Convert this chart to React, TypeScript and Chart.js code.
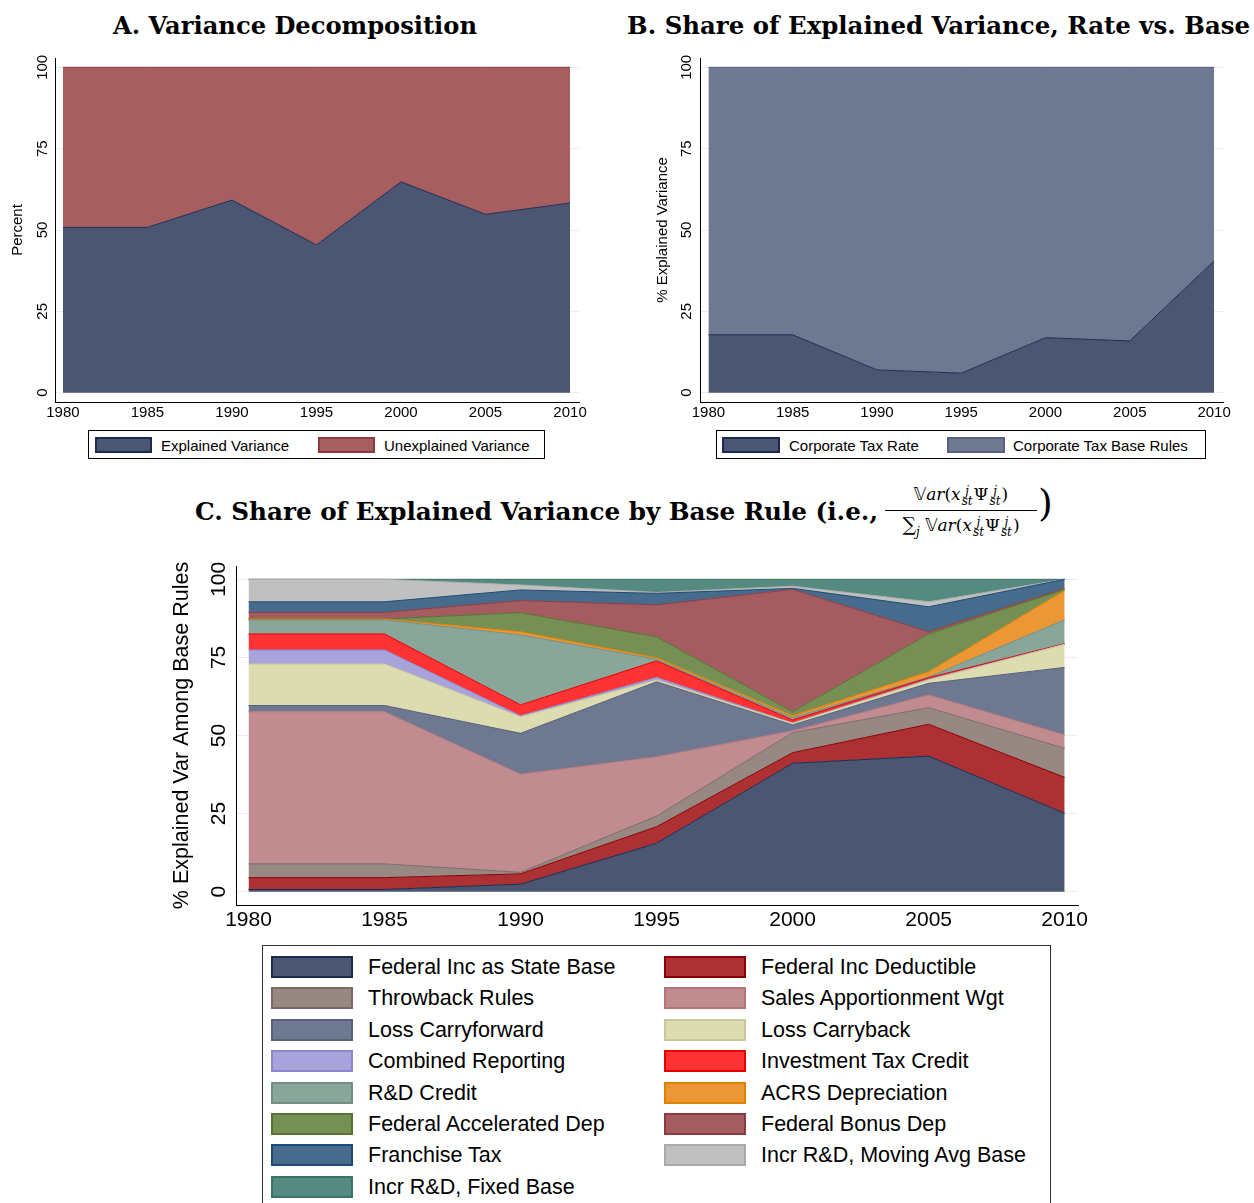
import React, { useEffect, useLayoutEffect, useRef } from "react";
import { Chart, registerables } from "chart.js";

Chart.register(...registerables);

// ---------------- DATA ----------------
const years = [1980, 1985, 1990, 1995, 2000, 2005, 2010];
const xTickValues = [1980, 1985, 1990, 1995, 2000, 2005, 2010];
const yTickValues = [0, 25, 50, 75, 100];

// Panel A
const explainedVariance = [50.8, 50.8, 59.2, 45.4, 64.8, 54.8, 58.3];
const unexplainedVariance = [49.2, 49.2, 40.8, 54.6, 35.2, 45.2, 41.7];

// Panel B
const corporateTaxRate = [17.8, 17.8, 7.0, 6.0, 16.9, 15.9, 40.5];
const corporateTaxBaseRules = [82.2, 82.2, 93.0, 94.0, 83.1, 84.1, 59.5];

// Panel C (each layer's share, stacked bottom to top)
const fedIncStateBase = [0.7, 0.7, 2.4, 15.5, 41.1, 43.4, 25.1];
const fedIncDeductible = [3.8, 3.8, 3.3, 5.3, 3.4, 10.2, 11.5];
const throwbackRules = [4.4, 4.4, 0.5, 3.4, 6.4, 5.3, 9.3];
const salesApportionmentWgt = [48.7, 48.7, 31.4, 19.0, 0.6, 4.1, 4.3];
const lossCarryforward = [2.0, 2.0, 13.1, 24.0, 1.9, 3.7, 21.6];
const lossCarryback = [13.3, 13.3, 5.3, 0.6, 0.5, 1.1, 7.4];
const combinedReporting = [4.5, 4.5, 0.3, 0.8, 0.1, 0.2, 0.0];
const investmentTaxCredit = [5.1, 5.1, 3.5, 5.3, 1.0, 0.5, 0.2];
const rdCredit = [4.5, 4.5, 22.4, 0.5, 0.7, 0.2, 7.6];
const acrsDepreciation = [0.3, 0.3, 1.0, 0.5, 0.6, 1.7, 9.4];
const fedAcceleratedDep = [0.0, 0.0, 6.1, 6.7, 1.3, 12.1, 0.4];
const fedBonusDep = [2.1, 2.1, 3.9, 10.2, 39.2, 0.7, 0.3];
const franchiseTax = [3.4, 3.4, 3.4, 3.7, 0.3, 8.0, 2.9];
const incrRDMovingAvg = [7.2, 7.2, 1.6, 0.3, 0.7, 1.6, 0.0];
const incrRDFixedBase = [0.0, 0.0, 1.8, 4.2, 2.2, 7.2, 0.0];

const labelsA = ["Explained Variance", "Unexplained Variance"];
const seriesA = [explainedVariance, unexplainedVariance];
const labelsB = ["Corporate Tax Rate", "Corporate Tax Base Rules"];
const seriesB = [corporateTaxRate, corporateTaxBaseRules];

const labelsC = [
  "Federal Inc as State Base",
  "Federal Inc Deductible",
  "Throwback Rules",
  "Sales Apportionment Wgt",
  "Loss Carryforward",
  "Loss Carryback",
  "Combined Reporting",
  "Investment Tax Credit",
  "R&D Credit",
  "ACRS Depreciation",
  "Federal Accelerated Dep",
  "Federal Bonus Dep",
  "Franchise Tax",
  "Incr R&D, Moving Avg Base",
  "Incr R&D, Fixed Base",
];
const seriesC = [
  fedIncStateBase,
  fedIncDeductible,
  throwbackRules,
  salesApportionmentWgt,
  lossCarryforward,
  lossCarryback,
  combinedReporting,
  investmentTaxCredit,
  rdCredit,
  acrsDepreciation,
  fedAcceleratedDep,
  fedBonusDep,
  franchiseTax,
  incrRDMovingAvg,
  incrRDFixedBase,
];

// ---------------- STYLES ----------------
const fillsA = ["#4b5673", "#a65e60"];
const linesA = ["#1c2a52", "#8c3a3f"];
const fillsB = ["#4b5673", "#6e7891"];
const linesB = ["#1c2a52", "#58627e"];
const fillsC = [
  "#4b5673", "#ad3033", "#988884", "#c18c8f", "#6e7891",
  "#dddbb0", "#a9a3dc", "#ff3333", "#8aa69b", "#eb9735",
  "#768f55", "#a45c61", "#466b8c", "#c0c0c0", "#558a80",
];
const linesC = [
  "#1c2a52", "#8b0000", "#7a6a66", "#b5747a", "#56607a",
  "#c9c79a", "#8d86cc", "#e60000", "#6f8f84", "#e08000",
  "#55722e", "#8b3a40", "#1f4a75", "#a9a9a9", "#3d7066",
];

const SANS = '"Liberation Sans", Arial, sans-serif';
const SERIF = '"DejaVu Serif", "Liberation Serif", serif';

type Geom = {
  left: number;
  top: number;
  width: number;
  height: number;
  yWidth: number;
  xHeight: number;
  padTop: number;
  padRight: number;
  xMin: number;
  xMax: number;
  yMin: number;
  yMax: number;
  tickSize: number;
  tickPad: number;
  yTickX: number; // page x
  yTitleX: number; // page x
  yTitle: string;
  yTitleSize: number;
};

const rotatedYAxis = {
  id: "rotatedYAxis",
  afterDraw(chart: any, _args: any, opts: any) {
    const { ctx } = chart;
    const y = chart.scales.y;
    ctx.save();
    ctx.fillStyle = "#000";
    ctx.textAlign = "center";
    ctx.textBaseline = "middle";
    ctx.font = `${opts.tickSize}px ${SANS}`;
    for (const v of opts.ticks) {
      const py = y.getPixelForValue(v);
      ctx.save();
      ctx.translate(opts.tickX, py);
      ctx.rotate(-Math.PI / 2);
      ctx.fillText(String(v), 0, 0);
      ctx.restore();
    }
    ctx.font = `${opts.titleSize}px ${SANS}`;
    const pc = y.getPixelForValue(50);
    ctx.translate(opts.titleX, pc);
    ctx.rotate(-Math.PI / 2);
    ctx.fillText(opts.title, 0, 0);
    ctx.restore();
  },
};

function AreaChart({ geom, labels, series, fills, lines }: { geom: Geom; labels: string[]; series: number[][]; fills: string[]; lines: string[] }) {
  const ref = useRef<HTMLCanvasElement>(null);
  useEffect(() => {
    const g = geom;
    const chart = new Chart(ref.current as HTMLCanvasElement, {
      type: "line",
      data: {
        datasets: series.map((arr, i) => ({
          label: labels[i],
          data: years.map((yr, k) => ({ x: yr, y: arr[k] })),
          backgroundColor: fills[i],
          borderColor: lines[i],
          borderWidth: 1,
          fill: i === 0 ? "origin" : "-1",
          pointRadius: 0,
          pointHoverRadius: 0,
          tension: 0,
        })),
      },
      options: {
        animation: false,
        responsive: false,
        devicePixelRatio: 1,
        events: [],
        layout: { padding: { top: g.padTop, right: g.padRight, left: 0, bottom: 0 } },
        plugins: {
          legend: { display: false },
          tooltip: { enabled: false },
          rotatedYAxis: {
            ticks: yTickValues,
            tickSize: g.tickSize,
            tickX: g.yTickX - g.left,
            titleX: g.yTitleX - g.left,
            title: g.yTitle,
            titleSize: g.yTitleSize,
          },
        } as any,
        scales: {
          x: {
            type: "linear",
            min: g.xMin,
            max: g.xMax,
            afterBuildTicks: (s: any) => {
              s.ticks = xTickValues.map((v) => ({ value: v }));
            },
            afterFit: (s: any) => {
              s.height = g.xHeight;
            },
            ticks: {
              callback: (v: any) => String(v),
              color: "#000",
              font: { family: SANS, size: g.tickSize },
              padding: g.tickPad,
              maxRotation: 0,
              minRotation: 0,
              autoSkip: false,
            },
            grid: { display: false, drawTicks: false },
            border: { display: true, color: "#000", width: 1 },
          },
          y: {
            type: "linear",
            stacked: true,
            min: g.yMin,
            max: g.yMax,
            afterBuildTicks: (s: any) => {
              s.ticks = yTickValues.map((v) => ({ value: v }));
            },
            afterFit: (s: any) => {
              s.width = g.yWidth;
            },
            ticks: { display: false },
            grid: { display: true, color: "#e8eff2", lineWidth: 1, drawTicks: false },
            border: { display: true, color: "#000", width: 1 },
          },
        },
      },
      plugins: [rotatedYAxis as any],
    });
    return () => chart.destroy();
  }, []);
  return (
    <canvas
      ref={ref}
      width={geom.width}
      height={geom.height}
      style={{ position: "absolute", left: geom.left, top: geom.top, width: geom.width, height: geom.height }}
    />
  );
}

function FitText({ left, top, width, size, children, style }: any) {
  const ref = useRef<HTMLDivElement>(null);
  useLayoutEffect(() => {
    const el = ref.current as HTMLDivElement;
    el.style.transform = "none";
    const w = el.getBoundingClientRect().width;
    if (w > 0) el.style.transform = `scaleX(${width / w})`;
  });
  return (
    <div
      ref={ref}
      style={{
        position: "absolute",
        left,
        top,
        whiteSpace: "nowrap",
        transformOrigin: "0 0",
        fontFamily: SERIF,
        fontWeight: "bold",
        fontSize: size,
        lineHeight: `${Math.round(size * 1.2)}px`,
        color: "#000",
        ...style,
      }}
    >
      {children}
    </div>
  );
}

function Swatch({ left, top, w, h, fill, line }: any) {
  return (
    <div
      style={{
        position: "absolute",
        left,
        top,
        width: w,
        height: h,
        boxSizing: "border-box",
        background: fill,
        border: `2px solid ${line}`,
      }}
    />
  );
}

function LegendText({ left, top, size, children }: any) {
  return (
    <div
      style={{
        position: "absolute",
        left,
        top,
        fontFamily: SANS,
        fontSize: size,
        lineHeight: "1",
        whiteSpace: "nowrap",
        color: "#000",
      }}
    >
      {children}
    </div>
  );
}

function SupSub({ sup, sub }: { sup: string; sub: string }) {
  return (
    <span
      style={{
        display: "inline-flex",
        flexDirection: "column",
        verticalAlign: "middle",
        fontSize: 12,
        lineHeight: "10px",
        fontStyle: "italic",
        marginLeft: 1,
        marginRight: 1,
      }}
    >
      <span>{sup}</span>
      <span>{sub}</span>
    </span>
  );
}

function VarTerm() {
  return (
    <span>
      <span style={{ fontFamily: '"DejaVu Sans", "DejaVu Serif", serif', fontStyle: "normal" }}>𝕍</span>
      <i>ar</i>(<i>x</i>
      <SupSub sup="j" sub="st" />
      Ψ
      <SupSub sup="j" sub="st" />)
    </span>
  );
}

const geomA: Geom = {
  left: 0, top: 40, width: 620, height: 390,
  yWidth: 55, xHeight: 28, padTop: 18, padRight: 41,
  xMin: 1979.53, xMax: 2010.53, yMin: -2.86, yMax: 102.86,
  tickSize: 15, tickPad: 2, yTickX: 43, yTitleX: 18, yTitle: "Percent", yTitleSize: 15,
};
const geomB: Geom = {
  left: 640, top: 40, width: 614, height: 390,
  yWidth: 60, xHeight: 28, padTop: 18, padRight: 31,
  xMin: 1979.5, xMax: 2010.53, yMin: -2.86, yMax: 102.86,
  tickSize: 15, tickPad: 2, yTickX: 687, yTitleX: 663, yTitle: "% Explained Variance", yTitleSize: 15,
};
const geomC: Geom = {
  left: 150, top: 550, width: 960, height: 395,
  yWidth: 86, xHeight: 40, padTop: 16, padRight: 32,
  xMin: 1979.54, xMax: 2010.49, yMin: -4.26, yMax: 104.26,
  tickSize: 21, tickPad: 3, yTickX: 219, yTitleX: 182, yTitle: "% Explained Var Among Base Rules", yTitleSize: 21.5,
};

export default function App() {
  const rowH = 31.4;
  return (
    <div style={{ position: "absolute", left: 0, top: 0, width: 1254, height: 1203, background: "#fff", overflow: "hidden" }}>
      {/* Titles */}
      <FitText left={113} top={11} width={364} size={25}>A. Variance Decomposition</FitText>
      <FitText left={627} top={11} width={623} size={25}>B. Share of Explained Variance, Rate vs. Base</FitText>
      <FitText left={195} top={497} width={683} size={24}>C. Share of Explained Variance by Base Rule (i.e.,</FitText>

      {/* Fraction in title C */}
      <div style={{ position: "absolute", left: 885, top: 482, width: 152, textAlign: "center", fontFamily: SERIF, fontSize: 17, lineHeight: "24px", whiteSpace: "nowrap", color: "#000" }}>
        <VarTerm />
      </div>
      <div style={{ position: "absolute", left: 885, top: 510, width: 152, height: 1, background: "#000" }} />
      <div style={{ position: "absolute", left: 885, top: 512, width: 152, textAlign: "center", fontFamily: SERIF, fontSize: 17, lineHeight: "24px", whiteSpace: "nowrap", color: "#000" }}>
        <span style={{ fontSize: 19 }}>∑</span>
        <i style={{ fontSize: 12, verticalAlign: "-5px" }}>j</i> <VarTerm />
      </div>
      <div style={{ position: "absolute", left: 1038, top: 480, fontFamily: SERIF, fontSize: 38, lineHeight: "46px", color: "#000" }}>)</div>

      {/* Charts */}
      <AreaChart geom={geomA} labels={labelsA} series={seriesA} fills={fillsA} lines={linesA} />
      <AreaChart geom={geomB} labels={labelsB} series={seriesB} fills={fillsB} lines={linesB} />
      <AreaChart geom={geomC} labels={labelsC} series={seriesC} fills={fillsC} lines={linesC} />

      {/* Legend A */}
      <div style={{ position: "absolute", left: 88, top: 430, width: 457, height: 29, boxSizing: "border-box", border: "1px solid #000" }} />
      <Swatch left={95} top={437} w={57} h={16} fill={fillsA[0]} line={linesA[0]} />
      <LegendText left={161} top={438} size={15}>{labelsA[0]}</LegendText>
      <Swatch left={318} top={437} w={57} h={16} fill={fillsA[1]} line={linesA[1]} />
      <LegendText left={384} top={438} size={15}>{labelsA[1]}</LegendText>

      {/* Legend B */}
      <div style={{ position: "absolute", left: 716, top: 430, width: 490, height: 29, boxSizing: "border-box", border: "1px solid #000" }} />
      <Swatch left={722} top={437} w={58} h={16} fill={fillsB[0]} line={linesB[0]} />
      <LegendText left={789} top={438} size={15}>{labelsB[0]}</LegendText>
      <Swatch left={947} top={437} w={58} h={16} fill={fillsB[1]} line={linesB[1]} />
      <LegendText left={1013} top={438} size={15}>{labelsB[1]}</LegendText>

      {/* Legend C */}
      <div style={{ position: "absolute", left: 262, top: 945, width: 789, height: 300, boxSizing: "border-box", border: "1px solid #333" }} />
      {labelsC.map((lab, k) => {
        const row = Math.floor(k / 2);
        const col = k % 2;
        const cy = 967 + rowH * row;
        const sx = col === 0 ? 271 : 664;
        const tx = col === 0 ? 368 : 761;
        return (
          <React.Fragment key={lab}>
            <Swatch left={sx} top={cy - 11} w={82} h={22} fill={fillsC[k]} line={linesC[k]} />
            <LegendText left={tx} top={cy - 10} size={21.5}>{lab}</LegendText>
          </React.Fragment>
        );
      })}
    </div>
  );
}
